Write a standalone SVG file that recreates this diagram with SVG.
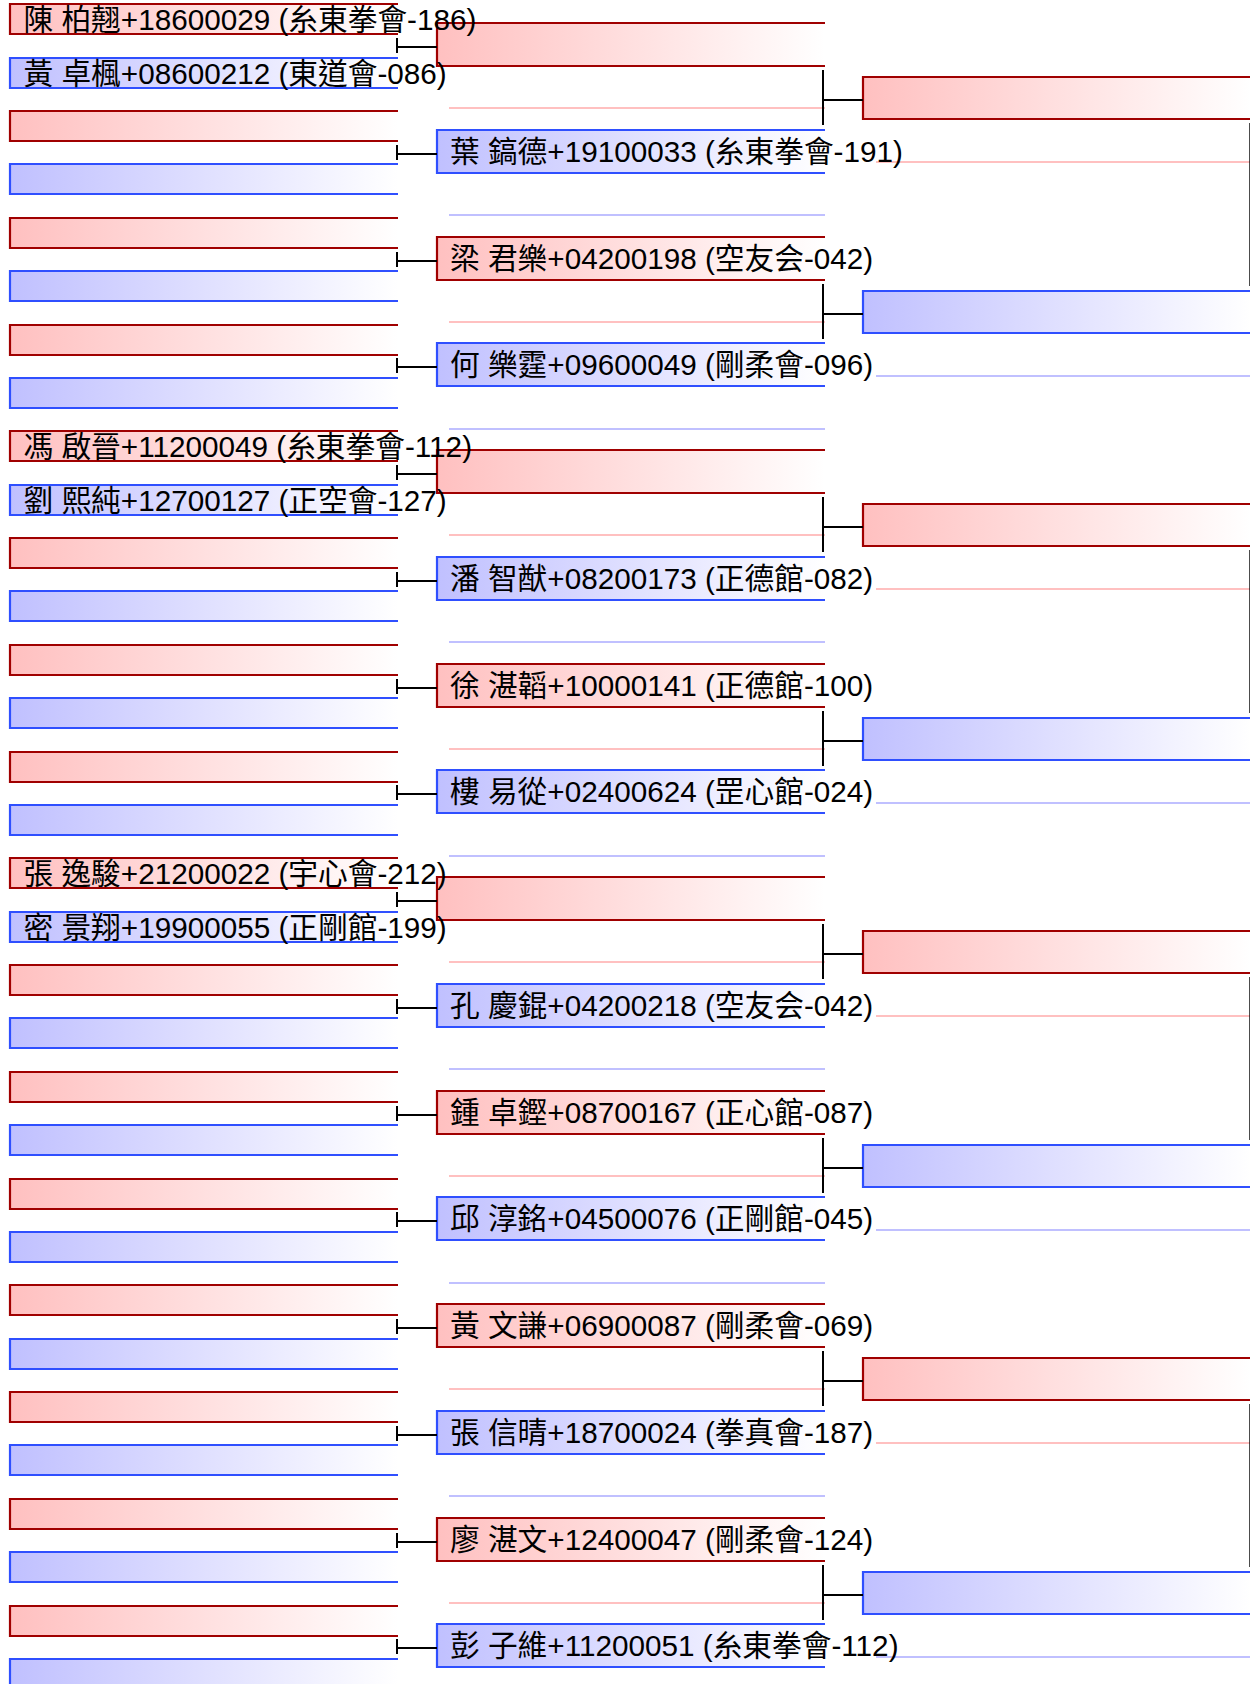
<svg xmlns="http://www.w3.org/2000/svg" xmlns:xlink="http://www.w3.org/1999/xlink" width="1250" height="1684" viewBox="0 0 1250 1684">
<style>
.t{font-family:"Liberation Sans","Noto Sans CJK TC","Noto Sans CJK SC",sans-serif;font-size:29.7px;fill:#000}
.br{fill:none;stroke:#a00000;stroke-width:2.2}
.bb{fill:none;stroke:#2f4fff;stroke-width:2.2}
.pp{stroke:#ffc0c0;stroke-width:2}
.pb{stroke:#c0c0ff;stroke-width:2}
.cn{fill:none;stroke:#000;stroke-width:2}
</style>
<defs>
<linearGradient id="gR" x1="0" y1="0" x2="1" y2="0"><stop offset="0" stop-color="#ffc0c0"/><stop offset="1" stop-color="#ffffff"/></linearGradient>
<linearGradient id="gB" x1="0" y1="0" x2="1" y2="0"><stop offset="0" stop-color="#c0c0ff"/><stop offset="1" stop-color="#ffffff"/></linearGradient>
<g id="b1r"><rect x="10" y="0" width="388" height="30" fill="url(#gR)"/><path class="br" d="M398,0H10V30H398"/></g>
<g id="b1b"><rect x="10" y="0" width="388" height="30" fill="url(#gB)"/><path class="bb" d="M398,0H10V30H398"/></g>
<g id="b2r"><rect x="437" y="0" width="388" height="43" fill="url(#gR)"/><path class="br" d="M825,0H437V43H825"/></g>
<g id="b2b"><rect x="437" y="0" width="388" height="43" fill="url(#gB)"/><path class="bb" d="M825,0H437V43H825"/></g>
<g id="b3r"><rect x="863" y="0" width="388" height="42" fill="url(#gR)"/><path class="br" d="M1252,0H863V42H1252"/></g>
<g id="b3b"><rect x="863" y="0" width="388" height="42" fill="url(#gB)"/><path class="bb" d="M1252,0H863V42H1252"/></g>
</defs>
<rect width="1250" height="1684" fill="#ffffff"/>
<g id="pale-lines">
<line class="pp" x1="449" x2="825" y1="108" y2="108"/>
<line class="pb" x1="449" x2="825" y1="215" y2="215"/>
<line class="pp" x1="449" x2="825" y1="322" y2="322"/>
<line class="pb" x1="449" x2="825" y1="429" y2="429"/>
<line class="pp" x1="449" x2="825" y1="535" y2="535"/>
<line class="pb" x1="449" x2="825" y1="642" y2="642"/>
<line class="pp" x1="449" x2="825" y1="749" y2="749"/>
<line class="pb" x1="449" x2="825" y1="856" y2="856"/>
<line class="pp" x1="449" x2="825" y1="962" y2="962"/>
<line class="pb" x1="449" x2="825" y1="1069" y2="1069"/>
<line class="pp" x1="449" x2="825" y1="1176" y2="1176"/>
<line class="pb" x1="449" x2="825" y1="1283" y2="1283"/>
<line class="pp" x1="449" x2="825" y1="1389" y2="1389"/>
<line class="pb" x1="449" x2="825" y1="1496" y2="1496"/>
<line class="pp" x1="449" x2="825" y1="1603" y2="1603"/>
<line class="pp" x1="876" x2="1252" y1="162" y2="162"/>
<line class="pb" x1="876" x2="1252" y1="376" y2="376"/>
<line class="pp" x1="876" x2="1252" y1="589" y2="589"/>
<line class="pb" x1="876" x2="1252" y1="803" y2="803"/>
<line class="pp" x1="876" x2="1252" y1="1016" y2="1016"/>
<line class="pb" x1="876" x2="1252" y1="1230" y2="1230"/>
<line class="pp" x1="876" x2="1252" y1="1443" y2="1443"/>
<line class="pb" x1="876" x2="1252" y1="1657" y2="1657"/>
</g>
<g id="round3">
<g id="r3-s0" transform="translate(0,77)"><use href="#b3r"/></g>
<g id="r3-s1" transform="translate(0,291)"><use href="#b3b"/></g>
<g id="r3-s2" transform="translate(0,504)"><use href="#b3r"/></g>
<g id="r3-s3" transform="translate(0,718)"><use href="#b3b"/></g>
<g id="r3-s4" transform="translate(0,931)"><use href="#b3r"/></g>
<g id="r3-s5" transform="translate(0,1145)"><use href="#b3b"/></g>
<g id="r3-s6" transform="translate(0,1358)"><use href="#b3r"/></g>
<g id="r3-s7" transform="translate(0,1572)"><use href="#b3b"/></g>
</g>
<g id="round2">
<g id="r2-s0" transform="translate(0,23)"><use href="#b2r"/></g>
<g id="r2-s1" transform="translate(0,130)"><use href="#b2b"/><text class="t" x="450" y="31.8">葉 鎬德+19100033 (糸東拳會-191)</text></g>
<g id="r2-s2" transform="translate(0,237)"><use href="#b2r"/><text class="t" x="450" y="31.8">梁 君樂+04200198 (空友会-042)</text></g>
<g id="r2-s3" transform="translate(0,343)"><use href="#b2b"/><text class="t" x="450" y="31.8">何 樂霆+09600049 (剛柔會-096)</text></g>
<g id="r2-s4" transform="translate(0,450)"><use href="#b2r"/></g>
<g id="r2-s5" transform="translate(0,557)"><use href="#b2b"/><text class="t" x="450" y="31.8">潘 智猷+08200173 (正德館-082)</text></g>
<g id="r2-s6" transform="translate(0,664)"><use href="#b2r"/><text class="t" x="450" y="31.8">徐 湛韜+10000141 (正德館-100)</text></g>
<g id="r2-s7" transform="translate(0,770)"><use href="#b2b"/><text class="t" x="450" y="31.8">樓 易從+02400624 (罡心館-024)</text></g>
<g id="r2-s8" transform="translate(0,877)"><use href="#b2r"/></g>
<g id="r2-s9" transform="translate(0,984)"><use href="#b2b"/><text class="t" x="450" y="31.8">孔 慶錕+04200218 (空友会-042)</text></g>
<g id="r2-s10" transform="translate(0,1091)"><use href="#b2r"/><text class="t" x="450" y="31.8">鍾 卓鏗+08700167 (正心館-087)</text></g>
<g id="r2-s11" transform="translate(0,1197)"><use href="#b2b"/><text class="t" x="450" y="31.8">邱 淳銘+04500076 (正剛館-045)</text></g>
<g id="r2-s12" transform="translate(0,1304)"><use href="#b2r"/><text class="t" x="450" y="31.8">黃 文謙+06900087 (剛柔會-069)</text></g>
<g id="r2-s13" transform="translate(0,1411)"><use href="#b2b"/><text class="t" x="450" y="31.8">張 信晴+18700024 (拳真會-187)</text></g>
<g id="r2-s14" transform="translate(0,1518)"><use href="#b2r"/><text class="t" x="450" y="31.8">廖 湛文+12400047 (剛柔會-124)</text></g>
<g id="r2-s15" transform="translate(0,1624)"><use href="#b2b"/><text class="t" x="450" y="31.8">彭 子維+11200051 (糸東拳會-112)</text></g>
</g>
<g id="round1">
<g id="r1-s0" transform="translate(0,4)"><use href="#b1r"/><text class="t" x="23.5" y="26.3">陳 柏翹+18600029 (糸東拳會-186)</text></g>
<g id="r1-s1" transform="translate(0,58)"><use href="#b1b"/><text class="t" x="23.5" y="26.3">黃 卓楓+08600212 (東道會-086)</text></g>
<g id="r1-s2" transform="translate(0,111)"><use href="#b1r"/></g>
<g id="r1-s3" transform="translate(0,164)"><use href="#b1b"/></g>
<g id="r1-s4" transform="translate(0,218)"><use href="#b1r"/></g>
<g id="r1-s5" transform="translate(0,271)"><use href="#b1b"/></g>
<g id="r1-s6" transform="translate(0,325)"><use href="#b1r"/></g>
<g id="r1-s7" transform="translate(0,378)"><use href="#b1b"/></g>
<g id="r1-s8" transform="translate(0,431)"><use href="#b1r"/><text class="t" x="23.5" y="26.3">馮 啟晉+11200049 (糸東拳會-112)</text></g>
<g id="r1-s9" transform="translate(0,485)"><use href="#b1b"/><text class="t" x="23.5" y="26.3">劉 熙純+12700127 (正空會-127)</text></g>
<g id="r1-s10" transform="translate(0,538)"><use href="#b1r"/></g>
<g id="r1-s11" transform="translate(0,591)"><use href="#b1b"/></g>
<g id="r1-s12" transform="translate(0,645)"><use href="#b1r"/></g>
<g id="r1-s13" transform="translate(0,698)"><use href="#b1b"/></g>
<g id="r1-s14" transform="translate(0,752)"><use href="#b1r"/></g>
<g id="r1-s15" transform="translate(0,805)"><use href="#b1b"/></g>
<g id="r1-s16" transform="translate(0,858)"><use href="#b1r"/><text class="t" x="23.5" y="26.3">張 逸駿+21200022 (宇心會-212)</text></g>
<g id="r1-s17" transform="translate(0,912)"><use href="#b1b"/><text class="t" x="23.5" y="26.3">密 景翔+19900055 (正剛館-199)</text></g>
<g id="r1-s18" transform="translate(0,965)"><use href="#b1r"/></g>
<g id="r1-s19" transform="translate(0,1018)"><use href="#b1b"/></g>
<g id="r1-s20" transform="translate(0,1072)"><use href="#b1r"/></g>
<g id="r1-s21" transform="translate(0,1125)"><use href="#b1b"/></g>
<g id="r1-s22" transform="translate(0,1179)"><use href="#b1r"/></g>
<g id="r1-s23" transform="translate(0,1232)"><use href="#b1b"/></g>
<g id="r1-s24" transform="translate(0,1285)"><use href="#b1r"/></g>
<g id="r1-s25" transform="translate(0,1339)"><use href="#b1b"/></g>
<g id="r1-s26" transform="translate(0,1392)"><use href="#b1r"/></g>
<g id="r1-s27" transform="translate(0,1445)"><use href="#b1b"/></g>
<g id="r1-s28" transform="translate(0,1499)"><use href="#b1r"/></g>
<g id="r1-s29" transform="translate(0,1552)"><use href="#b1b"/></g>
<g id="r1-s30" transform="translate(0,1606)"><use href="#b1r"/></g>
<g id="r1-s31" transform="translate(0,1659)"><use href="#b1b"/></g>
</g>
<g id="connectors" class="cn">
<path d="M397,38V53M397,47H437"/>
<path d="M397,145V160M397,154H437"/>
<path d="M397,252V267M397,261H437"/>
<path d="M397,358V373M397,367H437"/>
<path d="M397,465V480M397,474H437"/>
<path d="M397,572V587M397,581H437"/>
<path d="M397,679V694M397,688H437"/>
<path d="M397,785V800M397,794H437"/>
<path d="M397,892V907M397,901H437"/>
<path d="M397,999V1014M397,1008H437"/>
<path d="M397,1106V1121M397,1115H437"/>
<path d="M397,1212V1227M397,1221H437"/>
<path d="M397,1319V1334M397,1328H437"/>
<path d="M397,1426V1441M397,1435H437"/>
<path d="M397,1533V1548M397,1542H437"/>
<path d="M397,1639V1654M397,1648H437"/>
<path d="M823,70V125M823,100H863"/>
<path d="M823,284V339M823,314H863"/>
<path d="M823,497V552M823,527H863"/>
<path d="M823,711V766M823,741H863"/>
<path d="M823,924V979M823,954H863"/>
<path d="M823,1138V1193M823,1168H863"/>
<path d="M823,1351V1406M823,1381H863"/>
<path d="M823,1565V1620M823,1595H863"/>
<path d="M1250.3,123V286"/>
<path d="M1250.3,550V713"/>
<path d="M1250.3,977V1140"/>
<path d="M1250.3,1404V1567"/>
</g>
</svg>
